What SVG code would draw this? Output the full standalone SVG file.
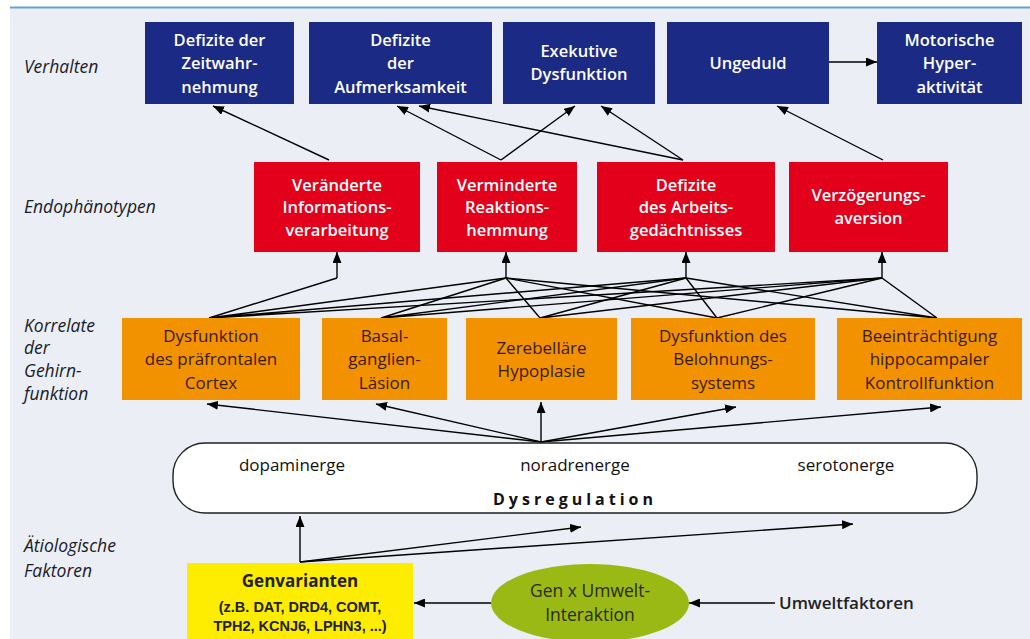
<svg xmlns="http://www.w3.org/2000/svg" width="1030" height="639" viewBox="0 0 1030 639">
<defs>
<marker id="ah" markerUnits="userSpaceOnUse" markerWidth="11" markerHeight="9" refX="11" refY="4.5" orient="auto">
<path d="M0,0 L11,4.5 L0,9 z" fill="#000"/>
</marker>
<style>
.lbl{font-family:"Open Sans","Liberation Sans",sans-serif;font-style:italic;font-size:17.5px;fill:#1a1a2a}
.bt{font-family:"Open Sans","Liberation Sans",sans-serif;font-weight:600;font-size:16.5px;fill:#fff;text-anchor:middle}
.ot{font-family:"Open Sans","Liberation Sans",sans-serif;font-size:17px;fill:#3a1a00;text-anchor:middle}
.blue{fill:#1b2a84}
.red{fill:#e2001a}
.org{fill:#f39200}
.c{fill:none;stroke:#000;stroke-width:1.4}
.ca{fill:none;stroke:#000;stroke-width:1.4;marker-end:url(#ah)}
.dt{font-family:"Open Sans","Liberation Sans",sans-serif;font-size:17px;fill:#111;text-anchor:middle}
</style>
</defs>
<rect x="0" y="0" width="1030" height="639" fill="#fff"/>
<rect x="10" y="8" width="1020" height="631" fill="#ebeff5"/>
<line x1="10" y1="7.5" x2="1030" y2="7.5" stroke="#6aa0d4" stroke-width="2"/>

<g id="labels">
<text class="lbl" x="24" y="73">Verhalten</text>
<text class="lbl" x="24" y="213">Endophänotypen</text>
<text class="lbl" x="24" y="332">Korrelate</text>
<text class="lbl" x="24" y="354">der</text>
<text class="lbl" x="24" y="377">Gehirn-</text>
<text class="lbl" x="24" y="400">funktion</text>
<text class="lbl" x="24" y="552">Ätiologische</text>
<text class="lbl" x="24" y="577">Faktoren</text>
</g>

<g id="connectors">
<path class="ca" d="M329,160 L213,106"/>
<path class="ca" d="M501,160 L397,106"/>
<path class="ca" d="M501,160 L575,106"/>
<path class="ca" d="M683,160 L419,106"/>
<path class="ca" d="M683,160 L601,106"/>
<path class="ca" d="M883,160 L777,106"/>
<path class="ca" d="M829,62 L877,62"/>
<path class="ca" d="M337,278 L337,252"/>
<path class="ca" d="M506,278 L506,252"/>
<path class="ca" d="M686,278 L686,252"/>
<path class="ca" d="M882,278 L882,252"/>
<path class="c" d="M209,318 L337,278"/>
<path class="c" d="M209,318 L506,278 M209,318 L686,278 M209,318 L882,278"/>
<path class="c" d="M381,318 L506,278 M381,318 L686,278 M381,318 L882,278"/>
<path class="c" d="M540,318 L506,278 M540,318 L686,278 M540,318 L882,278"/>
<path class="c" d="M717,318 L506,278 M717,318 L686,278 M717,318 L882,278"/>
<path class="c" d="M937,318 L506,278 M937,318 L686,278 M937,318 L882,278"/>
<path class="ca" d="M541,442 L207,404"/>
<path class="ca" d="M541,442 L376,404"/>
<path class="ca" d="M541,442 L541,402"/>
<path class="ca" d="M541,442 L736,407"/>
<path class="ca" d="M541,442 L941,407"/>
<path class="ca" d="M300,562 L300,516"/>
<path class="ca" d="M300,562 L581,527"/>
<path class="ca" d="M300,562 L853,524"/>
<path class="ca" d="M491,603 L414,603"/>
<path class="ca" d="M775,603 L689,603"/>
</g>

<g id="n-zeit"><rect class="blue" x="145" y="22" width="149" height="82"/>
<text class="bt"><tspan x="219.5" y="46">Defizite der</tspan><tspan x="219.5" y="69">Zeitwahr-</tspan><tspan x="219.5" y="93">nehmung</tspan></text></g>
<g id="n-aufm"><rect class="blue" x="309" y="22" width="183" height="82"/>
<text class="bt"><tspan x="400.5" y="46">Defizite</tspan><tspan x="400.5" y="69">der</tspan><tspan x="400.5" y="93">Aufmerksamkeit</tspan></text></g>
<g id="n-exek"><rect class="blue" x="503" y="22" width="152" height="82"/>
<text class="bt"><tspan x="579" y="57">Exekutive</tspan><tspan x="579" y="80">Dysfunktion</tspan></text></g>
<g id="n-unged"><rect class="blue" x="667" y="22" width="162" height="82"/>
<text class="bt" x="748" y="69">Ungeduld</text></g>
<g id="n-motor"><rect class="blue" x="877" y="22" width="145" height="82"/>
<text class="bt"><tspan x="949.5" y="46">Motorische</tspan><tspan x="949.5" y="69">Hyper-</tspan><tspan x="949.5" y="93">aktivität</tspan></text></g>

<g id="n-info"><rect class="red" x="254" y="162" width="166" height="90"/>
<text class="bt"><tspan x="337" y="191">Veränderte</tspan><tspan x="337" y="213">Informations-</tspan><tspan x="337" y="236">verarbeitung</tspan></text></g>
<g id="n-reak"><rect class="red" x="437" y="162" width="140" height="90"/>
<text class="bt"><tspan x="507" y="191">Verminderte</tspan><tspan x="507" y="213">Reaktions-</tspan><tspan x="507" y="236">hemmung</tspan></text></g>
<g id="n-arb"><rect class="red" x="597" y="162" width="178" height="90"/>
<text class="bt"><tspan x="686" y="191">Defizite</tspan><tspan x="686" y="213">des Arbeits-</tspan><tspan x="686" y="236">gedächtnisses</tspan></text></g>
<g id="n-verz"><rect class="red" x="789" y="162" width="159" height="90"/>
<text class="bt"><tspan x="868.5" y="201">Verzögerungs-</tspan><tspan x="868.5" y="224">aversion</tspan></text></g>

<g id="n-pfc"><rect class="org" x="122" y="318" width="178" height="82"/>
<text class="ot"><tspan x="211" y="342">Dysfunktion</tspan><tspan x="211" y="365">des präfrontalen</tspan><tspan x="211" y="389">Cortex</tspan></text></g>
<g id="n-basal"><rect class="org" x="322" y="318" width="125" height="82"/>
<text class="ot"><tspan x="384.5" y="342">Basal-</tspan><tspan x="384.5" y="365">ganglien-</tspan><tspan x="384.5" y="389">Läsion</tspan></text></g>
<g id="n-zereb"><rect class="org" x="466" y="318" width="151" height="82"/>
<text class="ot"><tspan x="541.5" y="354">Zerebelläre</tspan><tspan x="541.5" y="377">Hypoplasie</tspan></text></g>
<g id="n-belohn"><rect class="org" x="631" y="318" width="184" height="82"/>
<text class="ot"><tspan x="723" y="342">Dysfunktion des</tspan><tspan x="723" y="365">Belohnungs-</tspan><tspan x="723" y="389">systems</tspan></text></g>
<g id="n-hippo"><rect class="org" x="837" y="318" width="185" height="82"/>
<text class="ot"><tspan x="929.5" y="342">Beeinträchtigung</tspan><tspan x="929.5" y="365">hippocampaler</tspan><tspan x="929.5" y="389">Kontrollfunktion</tspan></text></g>

<g id="n-dysreg"><rect x="173" y="443" width="804" height="70" rx="32" ry="32" fill="#fff" stroke="#222" stroke-width="1.4"/>
<text class="dt" x="292" y="471">dopaminerge</text>
<text class="dt" x="575" y="471">noradrenerge</text>
<text class="dt" x="846" y="471">serotonerge</text>
<text class="dt" x="575" y="505" style="font-weight:700;letter-spacing:4px;font-size:16px">Dysregulation</text></g>

<g id="n-gen"><rect x="187" y="563" width="226" height="76" fill="#ffed00"/>
<text x="300" y="587" style="font-family:'Open Sans','Liberation Sans',sans-serif;font-weight:700;font-size:17px;fill:#222;text-anchor:middle">Genvarianten</text>
<text style="font-family:'Liberation Sans',sans-serif;font-size:14.5px;fill:#222;text-anchor:middle;font-weight:700"><tspan x="300" y="612">(z.B. DAT, DRD4, COMT,</tspan><tspan x="300" y="631">TPH2, KCNJ6, LPHN3, ...)</tspan></text></g>

<g id="n-gxu"><ellipse cx="590" cy="603" rx="99" ry="39" fill="#9bb915"/>
<text class="dt" style="fill:#2a2a00;font-size:17.5px"><tspan x="590" y="597">Gen x Umwelt-</tspan><tspan x="590" y="621">Interaktion</tspan></text></g>

<g id="n-umwelt"><text x="779" y="609" style="font-family:'Open Sans','Liberation Sans',sans-serif;font-weight:600;font-size:17px;fill:#222">Umweltfaktoren</text></g>
</svg>
